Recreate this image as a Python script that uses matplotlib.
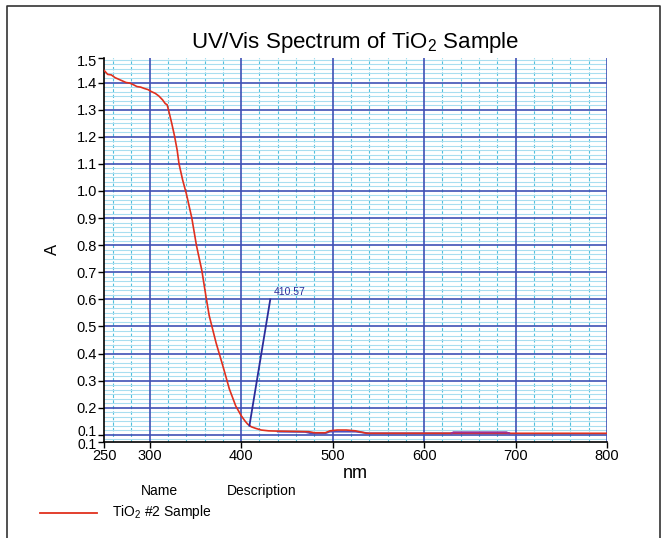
import matplotlib
matplotlib.use('Agg')
import matplotlib.pyplot as plt
from matplotlib.lines import Line2D
from matplotlib.ticker import MultipleLocator
from matplotlib.transforms import ScaledTranslation
import numpy as np

plt.rcParams['font.family'] = ['Liberation Sans', 'DejaVu Sans']
plt.rcParams['mathtext.fontset'] = 'custom'
plt.rcParams['mathtext.rm'] = 'Liberation Sans'

# spectrum
wavelength = [250, 254, 258, 262, 266, 270, 274, 278, 282, 286, 290, 294, 298,
              302, 306, 310, 314, 317, 319, 321, 324, 327, 330, 332, 336, 340,
              346, 351, 357, 361.5, 365, 372.5, 380, 387, 394, 400, 404, 407,
              411, 416, 422, 430, 440, 460, 474, 480, 492, 497, 505, 515, 525,
              532, 537, 545, 600, 650, 700, 750, 800]
absorbance = [1.445, 1.43, 1.428, 1.418, 1.412, 1.406, 1.40, 1.398, 1.392,
              1.385, 1.383, 1.378, 1.374, 1.366, 1.36, 1.35, 1.336, 1.322,
              1.318, 1.292, 1.25, 1.204, 1.15, 1.10, 1.04, 0.99, 0.90, 0.80,
              0.706, 0.61, 0.54, 0.44, 0.354, 0.27, 0.207, 0.171, 0.152, 0.14,
              0.13, 0.124, 0.118, 0.115, 0.114, 0.113, 0.112, 0.108, 0.108,
              0.115, 0.118, 0.118, 0.115, 0.11, 0.106, 0.106, 0.106, 0.106,
              0.106, 0.106, 0.106]

# faint blue trace showing under the red one near the baseline
blue_wl = [440, 470, 476, 492, 497, 525, 535, 540, 630, 632, 690, 693]
blue_abs = [0.112, 0.111, 0.106, 0.106, 0.112, 0.112, 0.108, 0.106, 0.106,
            0.109, 0.109, 0.106]

peak_label = '410.57'
peak_x = [409, 431.8]
peak_y = [0.134, 0.60]

y_min, y_max = 0.075, 1.49
y_ticks = [y_min] + [round(v, 1) for v in np.arange(0.1, 1.45, 0.1)] + [y_max]
x_ticks = [250, 300, 400, 500, 600, 700, 800]

fig = plt.figure(figsize=(6.66, 5.38), dpi=100)
ax = fig.add_axes([0.1562, 0.179, 0.7552, 0.713])
ax.set_axisbelow(True)

ax.set_xlim(250, 800)
ax.set_ylim(y_min, y_max)

# minor grid
ax.xaxis.set_minor_locator(MultipleLocator(20))
ax.yaxis.set_minor_locator(MultipleLocator(0.1 / 6))
ax.grid(which='minor', axis='y', color='#a9def0', lw=0.8, ls='-')
ax.grid(which='minor', axis='x', color='#4fc0dc', lw=0.8, ls=(0, (3, 2)))
ax.tick_params(which='minor', length=0)

# major grid
for xv in [300, 400, 500, 600, 700, 800]:
    ax.axvline(xv, color='#3f51b5', lw=1.2, zorder=1)
for yv in np.arange(0.1, 1.45, 0.1):
    ax.axhline(yv, color='#3f51b5', lw=1.2, zorder=1)

ax.plot(blue_wl, blue_abs, color='#5050c0', lw=1.3, zorder=2)
ax.plot(wavelength, absorbance, color='#e0301e', lw=1.2, zorder=3)
ax.plot(blue_wl[8:], blue_abs[8:], color='#a03090', lw=1.3, zorder=4)

# peak marker
ax.plot(peak_x, peak_y, color='#2c2c9a', lw=1.3, zorder=5)
ax.text(peak_x[1] + 4, peak_y[1] + 0.01, peak_label, fontsize=7.5,
        color='#2c2c9a', va='bottom', ha='left')

ax.set_xticks(x_ticks)
ax.set_xticklabels([str(v) for v in x_ticks])
ax.set_yticks(y_ticks)
ax.set_yticklabels(['%.1f' % v for v in y_ticks])
ax.tick_params(which='major', length=4, width=1, labelsize=10.5, pad=1)

# the two bottom labels sit close, nudge them apart like the original
ylabels = ax.get_yticklabels()
ylabels[0].set_transform(ylabels[0].get_transform() +
                         ScaledTranslation(0, -2 / 100, fig.dpi_scale_trans))
ylabels[1].set_transform(ylabels[1].get_transform() +
                         ScaledTranslation(0, 4 / 100, fig.dpi_scale_trans))
ylabels[0].set_fontsize(10)
ylabels[1].set_fontsize(10)
ylabels[-1].set_transform(ylabels[-1].get_transform() +
                          ScaledTranslation(0, -2 / 100, fig.dpi_scale_trans))

for side in ['top', 'right']:
    ax.spines[side].set_visible(False)
ax.spines['left'].set_linewidth(1.2)
ax.spines['bottom'].set_linewidth(1.2)

ax.set_xlabel('nm', fontsize=13, labelpad=0)
ax.xaxis.set_label_coords(0.5, -0.06)
ax.set_ylabel('A', fontsize=12, labelpad=12)

fig.text(0.533, 0.911, 'UV/Vis Spectrum of TiO$_2$ Sample', fontsize=16,
         ha='center', va='baseline')

# legend block
fig.text(0.24, 0.088, 'Name', fontsize=10, ha='center', va='center')
fig.text(0.393, 0.088, 'Description', fontsize=10, ha='center', va='center')
fig.add_artist(Line2D([0.06, 0.146], [0.046, 0.046], color='#e0301e', lw=1.3))
fig.text(0.168, 0.048, 'TiO$_2$ #2 Sample', fontsize=10, ha='left',
         va='center')

# frame around the figure
fig.add_artist(Line2D([0.011, 0.011, 0.991, 0.991], [0.0, 0.989, 0.989, 0.0],
                      color='#333333', lw=1.2))

fig.savefig('out.png', dpi=100)
